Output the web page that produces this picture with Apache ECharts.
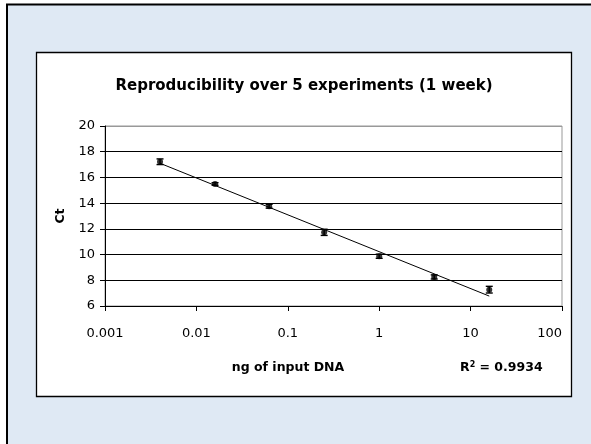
<!DOCTYPE html>
<html>
<head>
<meta charset="utf-8">
<script src="https://cdn.jsdelivr.net/npm/echarts@6/dist/echarts.min.js"></script>
<style>
  html, body { margin: 0; padding: 0; background: #fff; }
  #chart { width: 591px; height: 444px; }
</style>
</head>
<body>
<div id="chart"></div>
<script>
// ng of input DNA (4-fold dilutions)
var xValues = [0.004, 0.016, 0.0625, 0.25, 1, 4, 16];
// mean Ct over 5 experiments
var ctValues = [17.22, 15.49, 13.76, 11.73, 9.87, 8.26, 7.27];
// error bar half height
var ctErrors = [0.22, 0.1, 0.15, 0.24, 0.16, 0.16, 0.26];
var xTickLabels = ['0.001', '0.01', '0.1', '1', '10', '100'];
var titleText = 'Reproducibility over 5 experiments (1 week)';
var xName = 'ng of input DNA';
var yName = 'Ct';
var r2Text = '0.9934';

// least squares fit of Ct against log10(ng), like the excel trendline
function logFit(xs, ys) {
  var n = xs.length, sx = 0, sy = 0, sxx = 0, sxy = 0;
  for (var i = 0; i < n; i++) {
    var lx = Math.log10(xs[i]);
    sx += lx; sy += ys[i]; sxx += lx * lx; sxy += lx * ys[i];
  }
  var slope = (n * sxy - sx * sy) / (n * sxx - sx * sx);
  var icpt = (sy - slope * sx) / n;
  return function (x) { return icpt + slope * Math.log10(x); };
}
var fit = logFit(xValues, ctValues);
var xFirst = xValues[0], xLast = xValues[xValues.length - 1];
var trendData = [[xFirst, fit(xFirst)], [xLast, fit(xLast)]];

var points = xValues.map(function (x, i) { return [x, ctValues[i]]; });
var errData = xValues.map(function (x, i) {
  return [x, ctValues[i] - ctErrors[i], ctValues[i] + ctErrors[i]];
});

var font = 'DejaVu Sans';
var myChart = echarts.init(document.getElementById('chart'));
myChart.setOption({
  animation: false,
  backgroundColor: '#fff',
  graphic: [
    // light blue slide background
    { type: 'rect', z: -10, shape: { x: 7, y: 4, width: 584, height: 440 },
      style: { fill: '#dfe9f4' } },
    { type: 'polyline', z: -9, shape: { points: [[7, 444], [7, 4.5], [591, 4.5]] },
      style: { stroke: '#000', lineWidth: 2, fill: null } },
    // white chart box
    { type: 'rect', z: -8, shape: { x: 36.5, y: 52.5, width: 535, height: 344 },
      style: { fill: '#fff', stroke: '#000', lineWidth: 1.3 } },
    { type: 'text', z: 5, x: 304, y: 86,
      style: { text: titleText, font: 'bold 15px "' + font + '"', fill: '#000',
        align: 'center', verticalAlign: 'middle' } },
    { type: 'text', z: 5, x: 288, y: 368,
      style: { text: xName, font: 'bold 12.5px "' + font + '"', fill: '#000',
        align: 'center', verticalAlign: 'middle' } },
    { type: 'text', z: 5, x: 460, y: 368,
      style: {
        text: '{b|R}{s|2}{b| = ' + r2Text + '}',
        align: 'left', verticalAlign: 'middle',
        rich: {
          b: { fontFamily: font, fontWeight: 'bold', fontSize: 12.5, color: '#000' },
          s: { fontFamily: font, fontWeight: 'bold', fontSize: 8, color: '#000', verticalAlign: 'top', padding: [0, 0, 6, 0] }
        }
      } }
  ],
  grid: {
    left: 105, top: 126, right: 29, bottom: 138,
    show: true, backgroundColor: '#fff', borderColor: '#999', borderWidth: 1
  },
  xAxis: {
    type: 'log',
    logBase: 10,
    min: 0.001,
    max: 100,
    axisLine: { lineStyle: { color: '#000', width: 1 } },
    axisTick: { length: 5, lineStyle: { color: '#000' } },
    splitLine: { show: false },
    axisLabel: {
      margin: 21,
      fontFamily: font, fontSize: 13, color: '#000',
      alignMaxLabel: 'right',
      formatter: function (v) {
        return xTickLabels[Math.round(Math.log10(v)) + 3];
      }
    }
  },
  yAxis: {
    type: 'value',
    min: 6,
    max: 20,
    interval: 2,
    name: yName,
    nameLocation: 'middle',
    nameGap: 37,
    nameTextStyle: { fontFamily: font, fontWeight: 'bold', fontSize: 12.5, color: '#000' },
    axisLine: { show: true, lineStyle: { color: '#000', width: 1 } },
    axisTick: { show: true, length: 5, lineStyle: { color: '#000' } },
    splitLine: {
      lineStyle: { color: ['#000', '#000', '#000', '#000', '#000', '#000', '#000', '#999'], width: 1 }
    },
    axisLabel: { margin: 10, fontFamily: font, fontSize: 13, color: '#000' }
  },
  series: [
    {
      type: 'line',
      data: trendData,
      symbol: 'none',
      lineStyle: { color: '#000', width: 1 },
      z: 3
    },
    {
      type: 'custom',
      data: errData,
      z: 4,
      renderItem: function (params, api) {
        var lo = api.coord([api.value(0), api.value(1)]);
        var hi = api.coord([api.value(0), api.value(2)]);
        var w = 3.5;
        var st = { stroke: '#000', lineWidth: 1.4 };
        return {
          type: 'group',
          children: [
            { type: 'line', shape: { x1: lo[0], y1: lo[1], x2: hi[0], y2: hi[1] }, style: st },
            { type: 'line', shape: { x1: lo[0] - w, y1: lo[1], x2: lo[0] + w, y2: lo[1] }, style: st },
            { type: 'line', shape: { x1: hi[0] - w, y1: hi[1], x2: hi[0] + w, y2: hi[1] }, style: st }
          ]
        };
      }
    },
    {
      type: 'scatter',
      data: points,
      symbol: 'circle',
      symbolSize: 6,
      itemStyle: { color: '#000' },
      z: 5
    }
  ]
});
</script>
</body>
</html>
